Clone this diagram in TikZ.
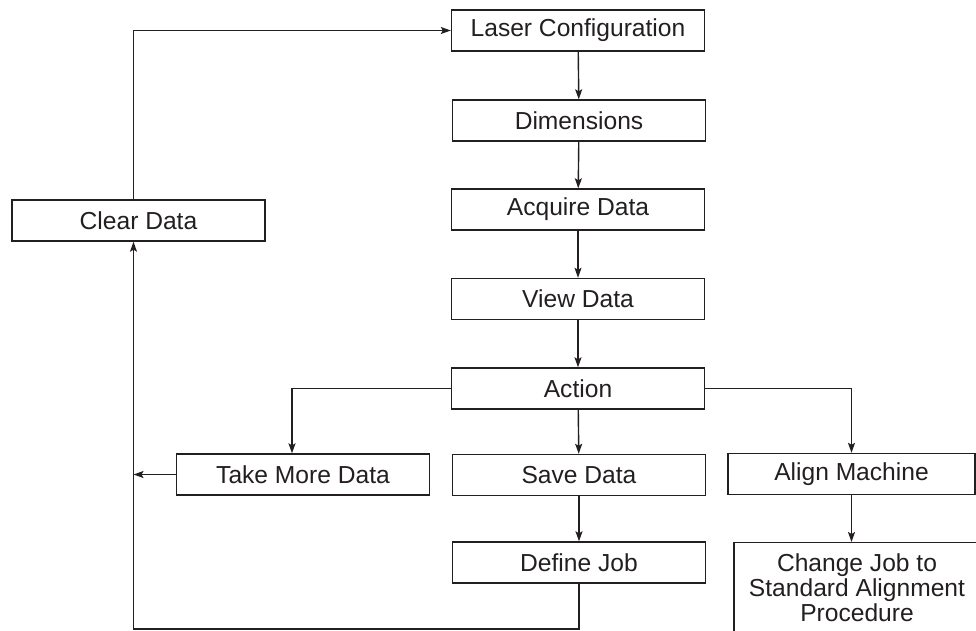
\documentclass[tikz,border=0pt]{standalone}
\usepackage{fontspec}
\setmainfont{Liberation Sans}
\usepackage{tikz}
\usetikzlibrary{arrows.meta}
\definecolor{flowink}{HTML}{231F20}

\begin{document}
\begin{tikzpicture}[x=1pt, y=-1pt, font=\fontsize{24.6}{25}\selectfont,
    box/.style={draw=flowink, text=flowink, line width=1.4pt, inner sep=0pt,
      minimum width=253pt, minimum height=41pt},
    arr/.style={-{Stealth[length=10pt,width=7pt,inset=2pt]}, flowink, line width=1.4pt},
    ln/.style={flowink, line width=1.4pt}]
    \useasboundingbox (0,0) rectangle (976,631);
    \node[box] (laser)  at (578,30.5)  {Laser Configuration};
    \node[box] (dims)   at (579,120.5) {Dimensions};
    \node[box] (acq)    at (578,209.5) {Acquire Data};
    \node[box] (view)   at (578,299)   {View Data};
    \node[box] (action) at (578,388.5) {Action};
    \node[box] (save)   at (579,475)   {Save Data};
    \node[box] (defjob) at (579,562.5) {Define Job};
    \node[box] (more)   at (303,474.5) {Take More Data};
    \node[box] (clear)  at (138.5,220.5) {Clear Data};
    \node[box, minimum width=247pt] (align) at (851.5,474) {Align Machine};
    \node[box, minimum width=246pt, minimum height=90pt, align=center,
      anchor=north] (change) at (857,542)
      {Change Job to\\Standard Alignment\\Procedure};
    \coordinate (loop) at (133.5,629);
    \draw[arr] (laser)  -- (dims);
    \draw[arr] (dims)   -- (acq);
    \draw[arr] (acq)    -- (view);
    \draw[arr] (view)   -- (action);
    \draw[arr] (action) -- (save);
    \draw[arr] (save)   -- (defjob);
    \draw[arr] (action.west) -| ([xshift=-11pt]more.north);
    \draw[arr] (action.east) -| (align.north);
    \draw[arr] (align.south) -- (align.south |- change.north);
    \draw[arr] (more.west) -- (more.west -| loop);
    \draw[arr] (defjob.south) |- (loop) -- (clear.south -| loop);
    \draw[arr] (clear.north -| loop) |- (laser.west);
  \end{tikzpicture}
\end{document}
